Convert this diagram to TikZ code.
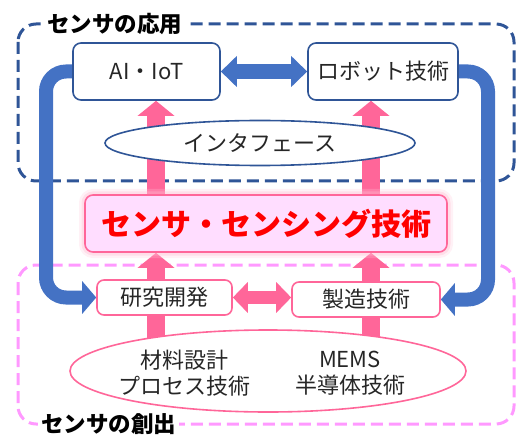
\documentclass[tikz,border=0pt]{standalone}
\usepackage{fontspec}
\setmainfont{Noto Sans CJK JP}
\usetikzlibrary{arrows.meta,shapes.geometric,backgrounds}
\definecolor{frameblue}{HTML}{2F5597}
\definecolor{flowblue}{HTML}{4472C4}
\definecolor{flowpink}{HTML}{FF6699}
\definecolor{framepink}{HTML}{FF99FF}
\definecolor{corefill}{HTML}{FFDDFF}
\definecolor{textgray}{HTML}{262626}
\tikzset{
  txt/.style={text=textgray, font=\fontsize{22}{26}\selectfont},
  appbox/.style={txt, draw=frameblue, line width=1.6pt, fill=white,
    rounded corners=8pt, minimum height=57pt, inner sep=0pt},
  makebox/.style={txt, draw=flowpink, line width=1.6pt, fill=white,
    rounded corners=7pt, minimum height=35pt, inner sep=0pt},
  appframe/.style={draw=frameblue, line width=3pt, rounded corners=18pt,
    dash pattern=on 12pt off 6pt},
  makeframe/.style={draw=framepink, line width=3pt, rounded corners=18pt,
    dash pattern=on 12pt off 6pt},
  framelabel/.style={fill=white, inner sep=3pt, anchor=west,
    font=\fontsize{22.5}{26}\selectfont\bfseries},
  rail/.style={flowblue, line width=14pt, rounded corners=20pt,
    -{Triangle[width=32pt,length=14pt]}},
  uparrow/.style={flowpink, line width=18pt,
    -{Triangle[width=36pt,length=15pt]}},
  shaft/.style={flowpink, line width=18pt},
}
\begin{document}
\begin{tikzpicture}[x=1pt,y=-1pt]
  \useasboundingbox (0,0) rectangle (518,435);
  \coordinate (colL) at (156,0);
  \coordinate (colR) at (371,0);
  \coordinate (railL) at (46,0);
  \coordinate (railR) at (488,0);

  % application side
  \node[appbox, minimum width=147pt] (ai) at (146.5,71.5) {AI・IoT};
  \node[appbox, minimum width=150pt] (robot) at (383,71.5) {ロボット技術};
  \node[txt, ellipse, draw=frameblue, line width=1.6pt, fill=white,
    minimum width=310pt, minimum height=45pt, inner sep=0pt] (iface) at (260,143) {インタフェース};

  % core
  \node[draw=flowpink, line width=1.6pt, fill=corefill, rounded corners=8pt,
    minimum width=362pt, minimum height=57pt, inner sep=0pt, text=red,
    font=\fontsize{30}{34}\selectfont\bfseries,
    preaction={draw=flowpink!35, line width=12pt, opacity=0.25},
    preaction={draw=flowpink!45, line width=7pt, opacity=0.35}] (core) at (266,223.5) {センサ・センシング技術};

  % creation side
  \node[makebox, minimum width=135pt] (rd) at (164.5,297.5) {研究開発};
  \node[makebox, minimum width=148pt] (mfg) at (366,299.5) {製造技術};
  \node[ellipse, draw=flowpink, line width=1.6pt, fill=white,
    minimum width=396pt, minimum height=82pt] (base) at (268,371) {};
  \node[txt, align=center] (matl) at (184,373) {材料設計\\プロセス技術};
  \node[txt, align=center] (mems) at (350,373) {MEMS\\半導体技術};

  % frame labels
  \node[framelabel] (applabel) at (44,24) {センサの応用};
  \node[framelabel] (makelabel) at (38,424) {センサの創出};

  \begin{pgfonlayer}{background}
    \draw[appframe] (18,24) rectangle (514,181);
    \draw[makeframe] (18,265) rectangle (514,424);
    \draw[rail] (ai.west) -| (railL |- rd.west) -- (rd.west);
    \draw[rail] (robot.east) -| (railR |- mfg.west) -- (mfg.east);
    \draw[flowblue, line width=15pt,
      {Triangle[width=30pt,length=16pt]}-{Triangle[width=30pt,length=16pt]}] (ai.east) -- (robot.west);
    \draw[flowpink, line width=13pt,
      {Triangle[width=30pt,length=15pt]}-{Triangle[width=30pt,length=15pt]}] (rd.east) -- (rd.east -| mfg.west);
    \draw[uparrow] (core.north -| colL) -- (ai.south -| colL);
    \draw[uparrow] (core.north -| colR) -- (robot.south -| colR);
    \draw[uparrow] (rd.north -| colL) -- (core.south -| colL);
    \draw[uparrow] (mfg.north -| colR) -- (core.south -| colR);
    \draw[shaft] (base.center -| colL) -- (rd.south -| colL);
    \draw[shaft] (base.center -| colR) -- (mfg.south -| colR);
  \end{pgfonlayer}
\end{tikzpicture}
\end{document}
